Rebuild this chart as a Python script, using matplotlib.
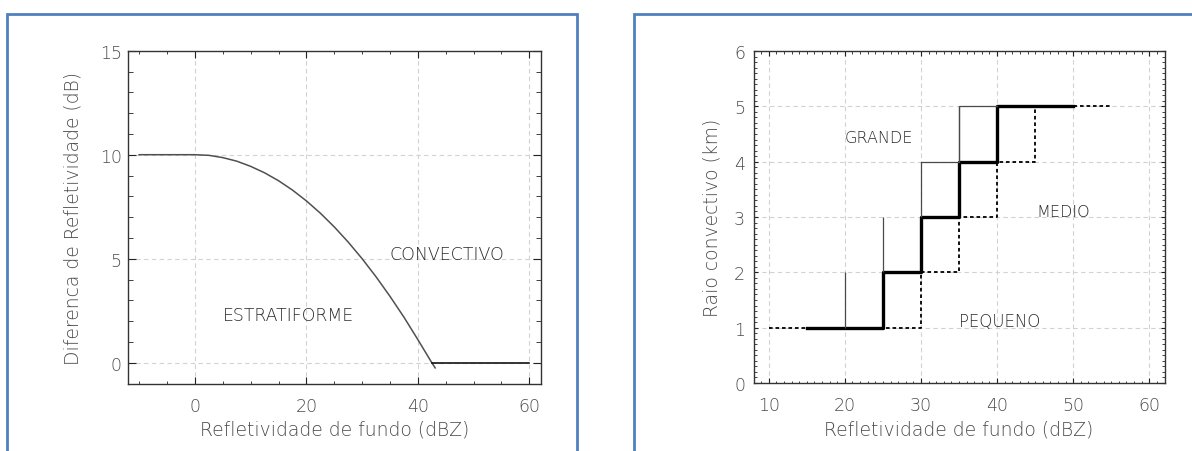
import numpy as np
import matplotlib
matplotlib.use('Agg')
import matplotlib.pyplot as plt
from matplotlib.patches import Rectangle
from matplotlib.ticker import MultipleLocator

plt.rcParams['font.weight'] = 'light'

# Criterio de pico convectivo (diferenca de refletividade x refletividade de fundo)
zbg_curve = [-10, 0, 2.5, 5, 7.5, 10, 12.5, 15, 17.5, 20, 22.5, 25, 27.5, 30,
             32.5, 35, 37.5, 40, 42.5, 43.1]
dz_curve = [10, 10, 9.97, 9.86, 9.69, 9.44, 9.13, 8.75, 8.30, 7.78, 7.19, 6.53,
            5.80, 5.0, 4.13, 3.19, 2.19, 1.11, 0.0, -0.25]
zbg_flat = [42.5, 60]
dz_flat = [0, 0]

# Raio convectivo por classe (pequeno, medio, grande)
small_z = [10, 30, 35, 40, 45, 55]
small_r = [1, 2, 3, 4, 5, 5]
medium_z = [15, 25, 30, 35, 40, 50]
medium_r = [1, 2, 3, 4, 5, 5]
large_z = [20, 25, 30, 35, 40]
large_r = [2, 3, 4, 5, 5]

W, H = 1192, 452
lab_col = '#4a4a4a'
txt_col = '#2a2a2a'
grid_kw = dict(color='#d2d2d2', linestyle=(0, (4, 3)), linewidth=0.8, zorder=0)

fig = plt.figure(figsize=(W / 100, H / 100), dpi=100)

# molduras azuis
fig.patches.append(Rectangle((7.5 / W, -0.1), (577 - 7.5) / W, 1.1 - 14.5 / H,
                             transform=fig.transFigure, fill=False,
                             ec='#4f81bd', lw=2))
fig.patches.append(Rectangle((633.5 / W, -0.1), 1.0, 1.1 - 14.5 / H,
                             transform=fig.transFigure, fill=False,
                             ec='#4f81bd', lw=2))

# ---- painel esquerdo
ax1 = fig.add_axes([128 / W, 1 - 384.5 / H, 412.5 / W, 332.8 / H])
ax1.plot(zbg_curve, dz_curve, color='#505050', lw=1.1)
ax1.plot(zbg_flat, dz_flat, color='black', lw=1.1)
ax1.set_xlim(-12, 62)
ax1.set_ylim(-1, 15)
ax1.xaxis.set_major_locator(MultipleLocator(20))
ax1.xaxis.set_minor_locator(MultipleLocator(5))
ax1.yaxis.set_major_locator(MultipleLocator(5))
ax1.yaxis.set_minor_locator(MultipleLocator(1))
for v in [0, 20, 40, 60]:
    ax1.axvline(v, **grid_kw)
for v in [0, 5, 10]:
    ax1.axhline(v, **grid_kw)
ax1.tick_params(which='both', direction='in', top=True, right=True,
                labelsize=12.5, labelcolor=lab_col, color='#222222')
ax1.tick_params(axis='x', which='major', length=5, pad=9.5)
ax1.tick_params(axis='x', which='minor', length=2.5)
ax1.tick_params(axis='y', which='major', length=5.8, pad=4.5)
ax1.tick_params(axis='y', which='minor', length=3.5)
ax1.set_xlabel('Refletividade de fundo (dBZ)', fontsize=13.5, color=lab_col,
               va='center', fontweight='light')
ax1.xaxis.set_label_coords(0.5, -0.137)
ax1.set_ylabel('Diferenca de Refletividade (dB)', fontsize=13.5, color=lab_col,
               va='center', fontweight='light')
ax1.yaxis.set_label_coords(-0.133, 0.5)
ax1.text(35, 5.23, 'CONVECTIVO', fontsize=12.5, color=txt_col, va='center')
ax1.text(5.1, 2.31, 'ESTRATIFORME', fontsize=12.5, color=txt_col, va='center')

# ---- painel direito
ax2 = fig.add_axes([753.5 / W, 1 - 384 / H, 411 / W, 332 / H])
for v in range(10, 61, 10):
    ax2.axvline(v, **grid_kw)
for v in range(1, 6):
    ax2.axhline(v, **grid_kw)
ax2.step(small_z, small_r, where='post', color='black', lw=1.3,
         linestyle=(0, (2, 1.6)), zorder=2)
ax2.step(medium_z, medium_r, where='post', color='black', lw=2.4, zorder=3)
ax2.vlines(large_z[:-1], np.array(large_r[:-1]) - 1, large_r[:-1],
           color='#4a4a4a', lw=0.9, zorder=4)
ax2.step(large_z[2:], large_r[2:], where='post', color='#4a4a4a', lw=0.9, zorder=4)
ax2.set_xlim(8, 62)
ax2.set_ylim(0, 6)
ax2.xaxis.set_major_locator(MultipleLocator(10))
ax2.xaxis.set_minor_locator(MultipleLocator(1))
ax2.yaxis.set_major_locator(MultipleLocator(1))
ax2.yaxis.set_minor_locator(MultipleLocator(0.1))
ax2.tick_params(which='both', direction='in', top=True, right=True,
                labelsize=12.5, labelcolor=lab_col, color='#222222')
ax2.tick_params(axis='x', which='major', length=3.6, pad=9.5)
ax2.tick_params(axis='x', which='minor', length=1.8)
ax2.tick_params(axis='y', which='major', length=3.2, pad=6)
ax2.tick_params(axis='y', which='minor', length=2.2)
ax2.set_xlabel('Refletividade de fundo (dBZ)', fontsize=13.5, color=lab_col,
               va='center', fontweight='light')
ax2.xaxis.set_label_coords(0.5, -0.139)
ax2.set_ylabel('Raio convectivo (km)', fontsize=13.5, color=lab_col,
               va='center', fontweight='light')
ax2.yaxis.set_label_coords(-0.101, 0.5)
ax2.text(20, 4.43, 'GRANDE', fontsize=11.5, color=txt_col, va='center')
ax2.text(45.2, 3.1, 'MEDIO', fontsize=11.5, color=txt_col, va='center')
ax2.text(35, 1.12, 'PEQUENO', fontsize=12, color=txt_col, va='center')

for ax in (ax1, ax2):
    for s in ax.spines.values():
        s.set_color('#333333')
        s.set_linewidth(1.0)

fig.savefig('out.png', dpi=100)
